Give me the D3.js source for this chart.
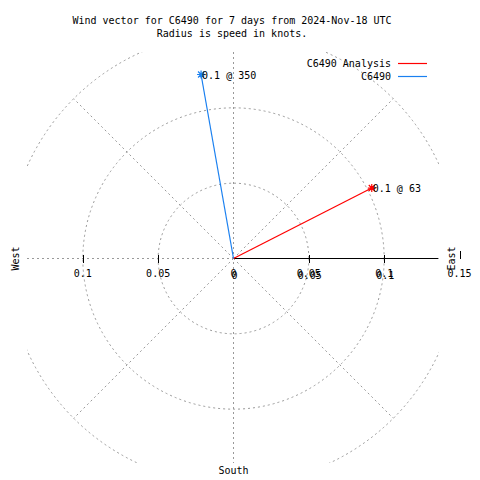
<!DOCTYPE html>
<html><head><meta charset="utf-8">
<script src="https://cdn.jsdelivr.net/npm/d3@7"></script>
<style>body{margin:0;background:#fff}svg{display:block}text{font-family:"DejaVu Sans Mono",monospace;font-size:10px;fill:#000}</style>
</head><body>
<script>
const titleLines = ["Wind vector for C6490 for 7 days from 2024-Nov-18 UTC", "Radius is speed in knots."];
const series = ["C6490 Analysis", "C6490"];
const speeds = [0.103, 0.124];      // knots
const directions = [63, 350];       // degrees, clockwise from north
const colors = ["#ff0000", "#1a80f0"];
const rings = [0.05, 0.1, 0.15];
const spokes = [45, 135, 225, 315];
const leftTicks = [-0.1, -0.05];
const rightTicks = [0, 0.05, 0.1];
const rightTicks2 = [0, 0.05, 0.1, 0.15];

const W = 480, H = 480;
const cx = 233.5, cy = 258.5;
const box = {x0: 27, x1: 439, y0: 52, y1: 463};
const rScale = d3.scaleLinear().domain([0, 0.15]).range([0, 226]);
const xScale = d3.scaleLinear().domain([-0.15, 0.15]).range([cx - 226, cx + 226]);
const grey = "#999999", dash = "2,3";

const svg = d3.select("body").append("svg").attr("width", W).attr("height", H);
svg.append("defs").append("clipPath").attr("id", "clip").append("rect")
  .attr("x", box.x0).attr("y", box.y0).attr("width", box.x1 - box.x0).attr("height", box.y1 - box.y0);

const grid = svg.append("g").attr("clip-path", "url(#clip)").attr("fill", "none")
  .attr("stroke", grey).attr("stroke-dasharray", dash);
grid.selectAll("circle").data(rings).join("circle")
  .attr("cx", cx).attr("cy", cy).attr("r", d => rScale(d));
grid.selectAll("line.sp").data(spokes).join("line").attr("class", "sp")
  .attr("x1", cx).attr("y1", cy)
  .attr("x2", d => cx + rScale(0.15) * Math.sin(d * Math.PI / 180))
  .attr("y2", d => cy - rScale(0.15) * Math.cos(d * Math.PI / 180));
grid.append("line").attr("x1", box.x0).attr("x2", box.x1).attr("y1", cy).attr("y2", cy);
grid.append("line").attr("x1", cx).attr("x2", cx).attr("y1", box.y0).attr("y2", box.y1);

// axis
svg.append("line").attr("x1", cx).attr("x2", box.x1 - 1).attr("y1", cy).attr("y2", cy)
  .attr("stroke", "#000").attr("shape-rendering", "crispEdges");
svg.selectAll("line.tk").data(leftTicks.concat(rightTicks.slice(1))).join("line").attr("class", "tk")
  .attr("x1", d => Math.round(xScale(d)) + 0.5).attr("x2", d => Math.round(xScale(d)) + 0.5)
  .attr("y1", cy - 4).attr("y2", cy + 4).attr("stroke", "#000").attr("shape-rendering", "crispEdges");
svg.append("line").attr("x1", Math.round(xScale(0.15)) + 0.5).attr("x2", Math.round(xScale(0.15)) + 0.5)
  .attr("y1", cy - 8).attr("y2", cy).attr("stroke", "#000").attr("shape-rendering", "crispEdges");

const fmt = d => String(Math.abs(d));
svg.selectAll("text.lt").data(leftTicks.concat(rightTicks2)).join("text").attr("class", "lt")
  .attr("x", d => xScale(d)).attr("y", cy + 18).attr("text-anchor", "middle").text(fmt);
svg.selectAll("text.rt").data(rightTicks).join("text").attr("class", "rt")
  .attr("x", d => xScale(d) + 1).attr("y", cy + 20).attr("text-anchor", "middle").text(fmt);

// compass labels
svg.append("text").attr("transform", `translate(19,${cy}) rotate(-90)`).attr("text-anchor", "middle").text("West");
svg.append("text").attr("transform", `translate(455,${cy}) rotate(-90)`).attr("text-anchor", "middle").text("East");
svg.append("text").attr("x", cx).attr("y", 474).attr("text-anchor", "middle").text("South");

// title
svg.selectAll("text.ti").data(titleLines).join("text").attr("class", "ti")
  .attr("x", 232).attr("y", (d, i) => 24 + i * 13).attr("text-anchor", "middle").text(d => d);

// vectors
const vec = series.map((s, i) => {
  const a = directions[i] * Math.PI / 180, r = rScale(speeds[i]);
  return {s, i, x: cx + r * Math.sin(a), y: cy - r * Math.cos(a)};
});
const vg = svg.append("g");
vg.selectAll("line").data(vec).join("line")
  .attr("x1", cx).attr("y1", cy).attr("x2", d => d.x).attr("y2", d => d.y)
  .attr("stroke", d => colors[d.i]).attr("stroke-width", 1.2);
vg.selectAll("path").data(vec).join("path")
  .attr("d", d => `M${d.x-4},${d.y}H${d.x+4}M${d.x},${d.y-4}V${d.y+4}M${d.x-3},${d.y-3}L${d.x+3},${d.y+3}M${d.x-3},${d.y+3}L${d.x+3},${d.y-3}`)
  .attr("stroke", d => colors[d.i]).attr("stroke-width", 1.2);
vg.selectAll("text").data(vec).join("text")
  .attr("x", d => d.x + 1).attr("y", d => d.y + 4)
  .text(d => `${speeds[d.i].toFixed(1)} @ ${directions[d.i]}`);

// legend
const lg = svg.append("g");
series.forEach((s, i) => {
  const y = 63 + i * 12.5;
  lg.append("text").attr("x", 391).attr("y", y + 4).attr("text-anchor", "end").text(s);
  lg.append("line").attr("x1", 398).attr("x2", 427).attr("y1", Math.round(y) + 0.5).attr("y2", Math.round(y) + 0.5)
    .attr("stroke", colors[i]).attr("stroke-width", 1.2);
});
</script>
</body></html>
